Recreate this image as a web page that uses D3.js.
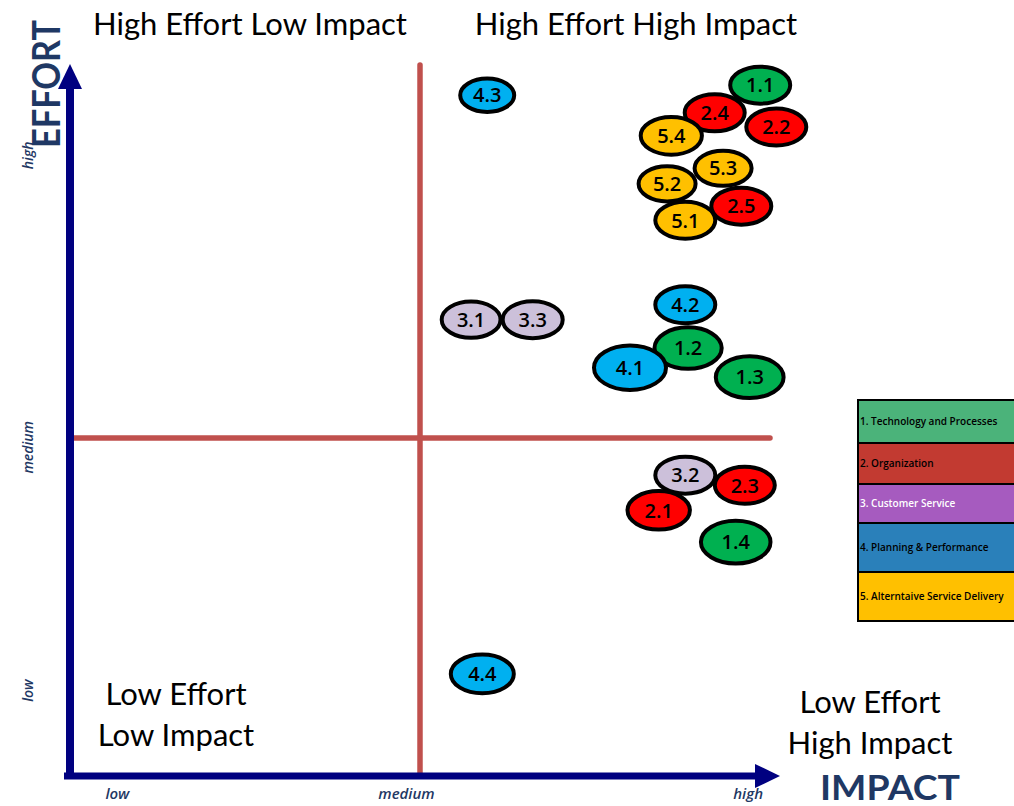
<!DOCTYPE html>
<html>
<head>
<meta charset="utf-8">
<script src="https://cdn.jsdelivr.net/npm/d3@7"></script>
<style>
  html, body { margin: 0; padding: 0; background: #ffffff; }
  svg { display: block; }
</style>
</head>
<body>
<svg id="chart" width="1014" height="806"></svg>
<script>
// Initiative identifiers (group.item), plotted by impact (x) and effort (y), both on a 0-10 scale
const itemIds   = ["4.3", "1.1", "2.4", "2.2", "5.4", "5.3", "5.2", "5.1", "2.5", "4.2",
                   "3.1", "3.3", "1.2", "4.1", "1.3", "3.2", "2.3", "2.1", "1.4", "4.4"];
const impact    = [5.96, 9.86, 9.21, 10.09, 8.59, 9.33, 8.53, 8.79, 9.59, 8.79,
                   5.73, 6.61, 8.83, 8.00, 9.71, 8.79, 9.64, 8.41, 9.51, 5.89];
const effort    = [10.07, 10.22, 9.81, 9.60, 9.47, 8.99, 8.76, 8.22, 8.43, 6.97,
                   6.75, 6.75, 6.33, 6.04, 5.90, 4.45, 4.30, 3.93, 3.46, 1.51];
// relative bubble weight of each initiative
const weight    = [0.9, 1.0, 1.0, 1.0, 1.02, 0.95, 0.95, 1.0, 1.0, 1.0,
                   0.98, 1.0, 1.12, 1.2, 1.13, 1.0, 1.0, 1.04, 1.16, 1.05];

const groupNames = ["1. Technology and Processes", "2. Organization", "3. Customer Service",
                    "4. Planning & Performance", "5. Alterntaive Service Delivery"];

const impactTickLabels = ["low", "medium", "high"];
const impactTickValues = [0.67, 4.8, 9.68];
const effortTickLabels = ["low", "medium", "high"];
const effortTickValues = [1.27, 4.87, 9.19];

const quadrantTitles = ["High Effort Low Impact", "High Effort High Impact"];
const lowLowLines    = ["Low Effort", "Low Impact"];
const lowHighLines   = ["Low Effort", "High Impact"];

// ---- styling ----
const bubbleFill  = ["#00B050", "#FF0000", "#CCC0DA", "#00B0F0", "#FFC000"];
const legendFill  = ["#4BB37A", "#C23A31", "#A65BBF", "#2A80BA", "#FFC000"];
const legendText  = ["#000", "#000", "#fff", "#000", "#000"];
const navy = "#000080";
const axisTextColor = "#1F3864";
const dividerColor = "#C0504D";
const textFont = "Lato, 'Open Sans', 'DejaVu Sans', sans-serif";
const labelFont = "'Open Sans', Lato, 'DejaVu Sans', sans-serif";

const svg = d3.select("#chart");

const x = d3.scaleLinear().domain([0, 10]).range([70, 770]);
const y = d3.scaleLinear().domain([0, 10]).range([776, 100]);

// ---- quadrant dividers ----
svg.append("line")
  .attr("x1", x(5)).attr("x2", x(5))
  .attr("y1", 65).attr("y2", y(0))
  .attr("stroke", dividerColor).attr("stroke-width", 5.5).attr("stroke-linecap", "round");
svg.append("line")
  .attr("x1", x(0) + 4).attr("x2", x(10))
  .attr("y1", y(5)).attr("y2", y(5))
  .attr("stroke", dividerColor).attr("stroke-width", 5.5).attr("stroke-linecap", "round");

// ---- axes with arrow heads ----
svg.append("line")
  .attr("x1", x(0)).attr("x2", x(0))
  .attr("y1", y(0) + 3).attr("y2", 88)
  .attr("stroke", navy).attr("stroke-width", 8);
svg.append("path")
  .attr("d", `M${x(0) - 12},89 L${x(0)},64 L${x(0) + 12},89 Z`)
  .attr("fill", navy);

svg.append("line")
  .attr("x1", x(0) - 6).attr("x2", 757)
  .attr("y1", y(0)).attr("y2", y(0))
  .attr("stroke", navy).attr("stroke-width", 7);
svg.append("path")
  .attr("d", `M755,${y(0) - 12} L780,${y(0)} L755,${y(0) + 12} Z`)
  .attr("fill", navy);

// tick labels via d3 axes (no domain or tick marks)
const xAxis = d3.axisBottom(x)
  .tickValues(impactTickValues)
  .tickFormat((d, i) => impactTickLabels[i])
  .tickSize(0);
const gx = svg.append("g").attr("transform", `translate(0,${y(0) + 7})`).call(xAxis);
gx.select(".domain").remove();
gx.selectAll("text")
  .attr("dy", "0.85em")
  .attr("fill", axisTextColor)
  .style("font", `italic 600 15px ${labelFont}`);

const yAxis = d3.axisLeft(y)
  .tickValues(effortTickValues)
  .tickFormat((d, i) => effortTickLabels[i])
  .tickSize(0);
const gy = svg.append("g").attr("transform", `translate(28,0)`).call(yAxis);
gy.select(".domain").remove();
gy.selectAll(".tick text")
  .attr("x", 0).attr("dy", "0.35em")
  .attr("text-anchor", "middle")
  .attr("transform", "rotate(-90)")
  .attr("fill", axisTextColor)
  .style("font", `italic 600 14px ${labelFont}`);

// axis titles
svg.append("text")
  .attr("transform", "translate(60,84) rotate(-90)")
  .attr("text-anchor", "middle")
  .attr("fill", axisTextColor)
  .attr("textLength", 128).attr("lengthAdjust", "spacingAndGlyphs")
  .style("font", `bold 38px ${textFont}`)
  .text("EFFORT");
svg.append("text")
  .attr("x", 820).attr("y", 800)
  .attr("fill", axisTextColor)
  .attr("textLength", 140).attr("lengthAdjust", "spacingAndGlyphs")
  .style("font", `bold 35px ${textFont}`)
  .text("IMPACT");

// ---- quadrant labels ----
const quadFont = `31px ${textFont}`;
svg.selectAll("text.qtitle")
  .data(quadrantTitles)
  .join("text")
  .attr("class", "qtitle")
  .attr("x", (d, i) => i === 0 ? 250 : 636)
  .attr("y", 35)
  .attr("text-anchor", "middle")
  .attr("fill", "#000")
  .style("font", quadFont)
  .text(d => d);

svg.selectAll("text.qll")
  .data(lowLowLines)
  .join("text")
  .attr("class", "qll")
  .attr("x", 176)
  .attr("y", (d, i) => 705 + i * 41)
  .attr("text-anchor", "middle")
  .attr("fill", "#000")
  .style("font", quadFont)
  .text(d => d);

svg.selectAll("text.qlh")
  .data(lowHighLines)
  .join("text")
  .attr("class", "qlh")
  .attr("x", 870)
  .attr("y", (d, i) => 713 + i * 41)
  .attr("text-anchor", "middle")
  .attr("fill", "#000")
  .style("font", quadFont)
  .text(d => d);

// ---- initiative bubbles ----
const items = itemIds.map((id, i) => ({
  id,
  group: +id.split(".")[0] - 1,
  impact: impact[i],
  effort: effort[i],
  weight: weight[i]
}));

const bubbles = svg.append("g").selectAll("g")
  .data(items)
  .join("g")
  .attr("transform", d => `translate(${x(d.impact)},${y(d.effort)})`);

bubbles.append("ellipse")
  .attr("rx", d => 30 * d.weight)
  .attr("ry", d => 18.5 * d.weight)
  .attr("fill", d => bubbleFill[d.group])
  .attr("stroke", "#000")
  .attr("stroke-width", 4);

bubbles.append("text")
  .attr("text-anchor", "middle")
  .attr("dy", "0.36em")
  .attr("fill", "#000")
  .style("font", `600 20px ${labelFont}`)
  .text(d => d.id);

// ---- legend ----
const legendTop = [400, 443, 484, 523, 572, 621];
const legend = svg.append("g");
legend.selectAll("rect")
  .data(groupNames)
  .join("rect")
  .attr("x", 858)
  .attr("y", (d, i) => legendTop[i])
  .attr("width", 170)
  .attr("height", (d, i) => legendTop[i + 1] - legendTop[i])
  .attr("fill", (d, i) => legendFill[i])
  .attr("stroke", "#000")
  .attr("stroke-width", 2);
legend.selectAll("text")
  .data(groupNames)
  .join("text")
  .attr("x", 860)
  .attr("y", (d, i) => (legendTop[i] + legendTop[i + 1]) / 2)
  .attr("dy", "0.35em")
  .attr("fill", (d, i) => legendText[i])
  .style("font", `600 10px ${labelFont}`)
  .text(d => d);
</script>
</body>
</html>
